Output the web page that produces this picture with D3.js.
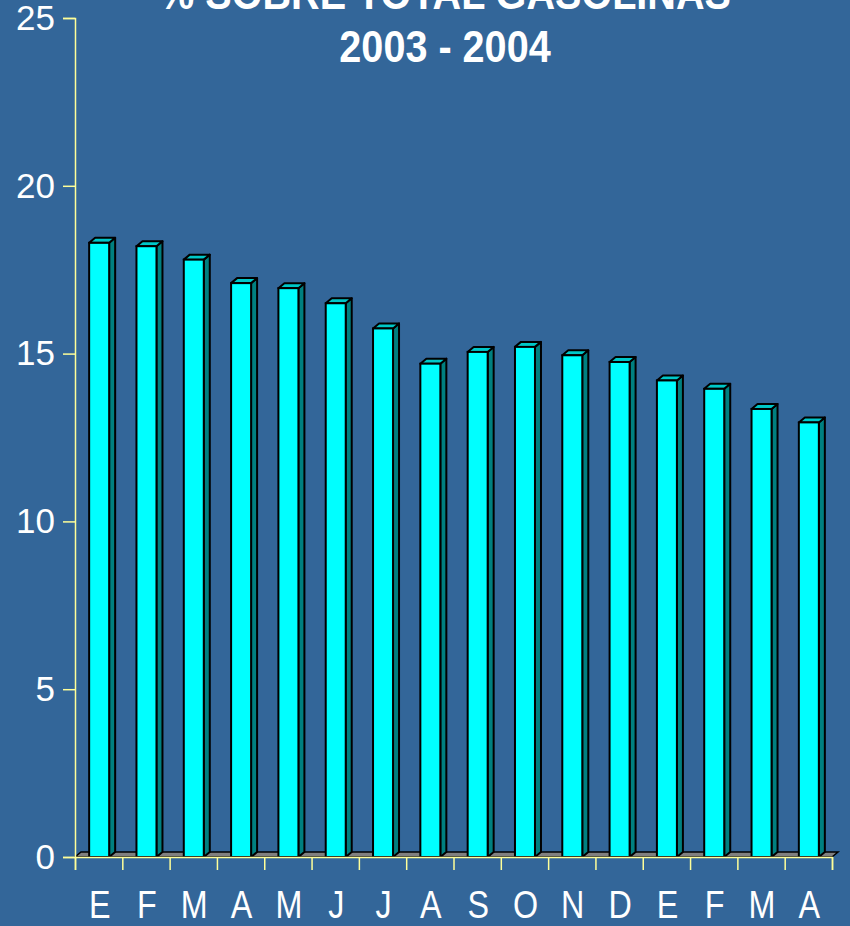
<!DOCTYPE html>
<html>
<head>
<meta charset="utf-8">
<script src="https://cdn.jsdelivr.net/npm/d3@7"></script>
<style>
  html, body { margin: 0; padding: 0; background: #336699; overflow: hidden; }
  svg { display: block; }
</style>
</head>
<body>
<div id="chart"></div>
<script>
'use strict'

// data
const months = ['E', 'F', 'M', 'A', 'M', 'J', 'J', 'A', 'S', 'O', 'N', 'D', 'E', 'F', 'M', 'A']
const values = [18.3, 18.2, 17.8, 17.1, 16.95, 16.5, 15.75, 14.7, 15.05, 15.2, 14.95, 14.75, 14.2, 13.95, 13.35, 12.95]
const yTicks = [0, 5, 10, 15, 20, 25]
const titleLines = ['% SOBRE TOTAL GASOLINAS', '2003 - 2004']

////////////////////////////////////
//////////// svg setup /////////////
////////////////////////////////////
const svgWidth = 850, svgHeight = 926
const margin = { left: 75, right: 18, top: 18, bottom: 69 }
const width = svgWidth - margin.left - margin.right
const height = svgHeight - margin.top - margin.bottom

const svg = d3.select('#chart')
    .append('svg')
    .attr('width', svgWidth)
    .attr('height', svgHeight)

svg.append('rect')
    .attr('width', svgWidth)
    .attr('height', svgHeight)
    .attr('fill', '#336699')

const g = svg.append('g')
    .attr('transform', `translate(${margin.left},${margin.top})`)

// scales
const x = d3.scaleBand()
    .domain(d3.range(months.length))
    .range([0, width])
    .padding(0)

const xEdge = d3.scaleLinear()
    .domain([0, months.length])
    .range([0, width])

const y = d3.scaleLinear()
    .domain([0, 25])
    .range([height, 0])

// 3d depth
const dx = 6, dy = 5
const barW = 20
const axisColor = '#ffff99'
const outline = 2

// floor
g.append('polygon')
    .attr('points', [[0, height], [width, height], [width + dx, height - dy], [dx, height - dy]].join(' '))
    .attr('fill', '#808080')
    .attr('stroke', '#000')
    .attr('stroke-width', 1.5)

// bars
const bar = g.selectAll('.bar')
    .data(values)
    .join('g')
    .attr('class', 'bar')
    .attr('transform', (d, i) => `translate(${x(i) + x.bandwidth() / 2 - barW / 2 + 0.5},0)`)

bar.append('polygon')
    .attr('points', d => [[barW, y(d)], [barW + dx, y(d) - dy], [barW + dx, height - dy], [barW, height]].join(' '))
    .attr('fill', '#008080')
    .attr('stroke', '#000')
    .attr('stroke-width', outline)
    .attr('stroke-linejoin', 'round')

bar.append('polygon')
    .attr('points', d => [[0, y(d)], [dx, y(d) - dy], [barW + dx, y(d) - dy], [barW, y(d)]].join(' '))
    .attr('fill', '#00c8c8')
    .attr('stroke', '#000')
    .attr('stroke-width', outline)
    .attr('stroke-linejoin', 'round')

bar.append('rect')
    .attr('x', 0)
    .attr('y', d => y(d))
    .attr('width', barW)
    .attr('height', d => height - y(d))
    .attr('fill', '#00ffff')
    .attr('stroke', '#000')
    .attr('stroke-width', outline)

// y axis
const yAxis = g.append('g')
    .call(d3.axisLeft(y).tickValues(yTicks).tickSize(12).tickPadding(8))

yAxis.select('.domain').attr('stroke', axisColor).attr('stroke-width', 1.5)
yAxis.selectAll('.tick line').attr('stroke', axisColor).attr('stroke-width', 1.5)
yAxis.selectAll('.tick text')
    .attr('fill', '#fff')
    .style('font-family', '"Liberation Sans", Arial, sans-serif')
    .style('font-size', '35px')

// x axis (tick marks at band edges)
const xAxis = g.append('g')
    .attr('transform', `translate(0,${height})`)
    .call(d3.axisBottom(xEdge).tickValues(d3.range(months.length + 1)).tickSize(13).tickFormat(''))

xAxis.select('.domain').attr('stroke', axisColor).attr('stroke-width', 1.5)
xAxis.selectAll('.tick line').attr('stroke', axisColor).attr('stroke-width', 1.5)

// category labels
g.selectAll('.cat')
    .data(months)
    .join('text')
    .attr('class', 'cat')
    .attr('transform', (d, i) => `translate(${x(i) + x.bandwidth() / 2 + 1},${height + 61}) scale(0.85,1)`)
    .attr('text-anchor', 'middle')
    .attr('fill', '#fff')
    .style('font-family', '"Liberation Sans", Arial, sans-serif')
    .style('font-size', '38px')
    .text(d => d)

// title
svg.selectAll('.title')
    .data(titleLines)
    .join('text')
    .attr('class', 'title')
    .attr('transform', (d, i) => `translate(445,${9 + i * 53}) scale(0.9,1)`)
    .attr('text-anchor', 'middle')
    .attr('fill', '#fff')
    .style('font-family', '"Liberation Sans", Arial, sans-serif')
    .style('font-weight', 'bold')
    .style('font-size', '44px')
    .text(d => d)
</script>
</body>
</html>
